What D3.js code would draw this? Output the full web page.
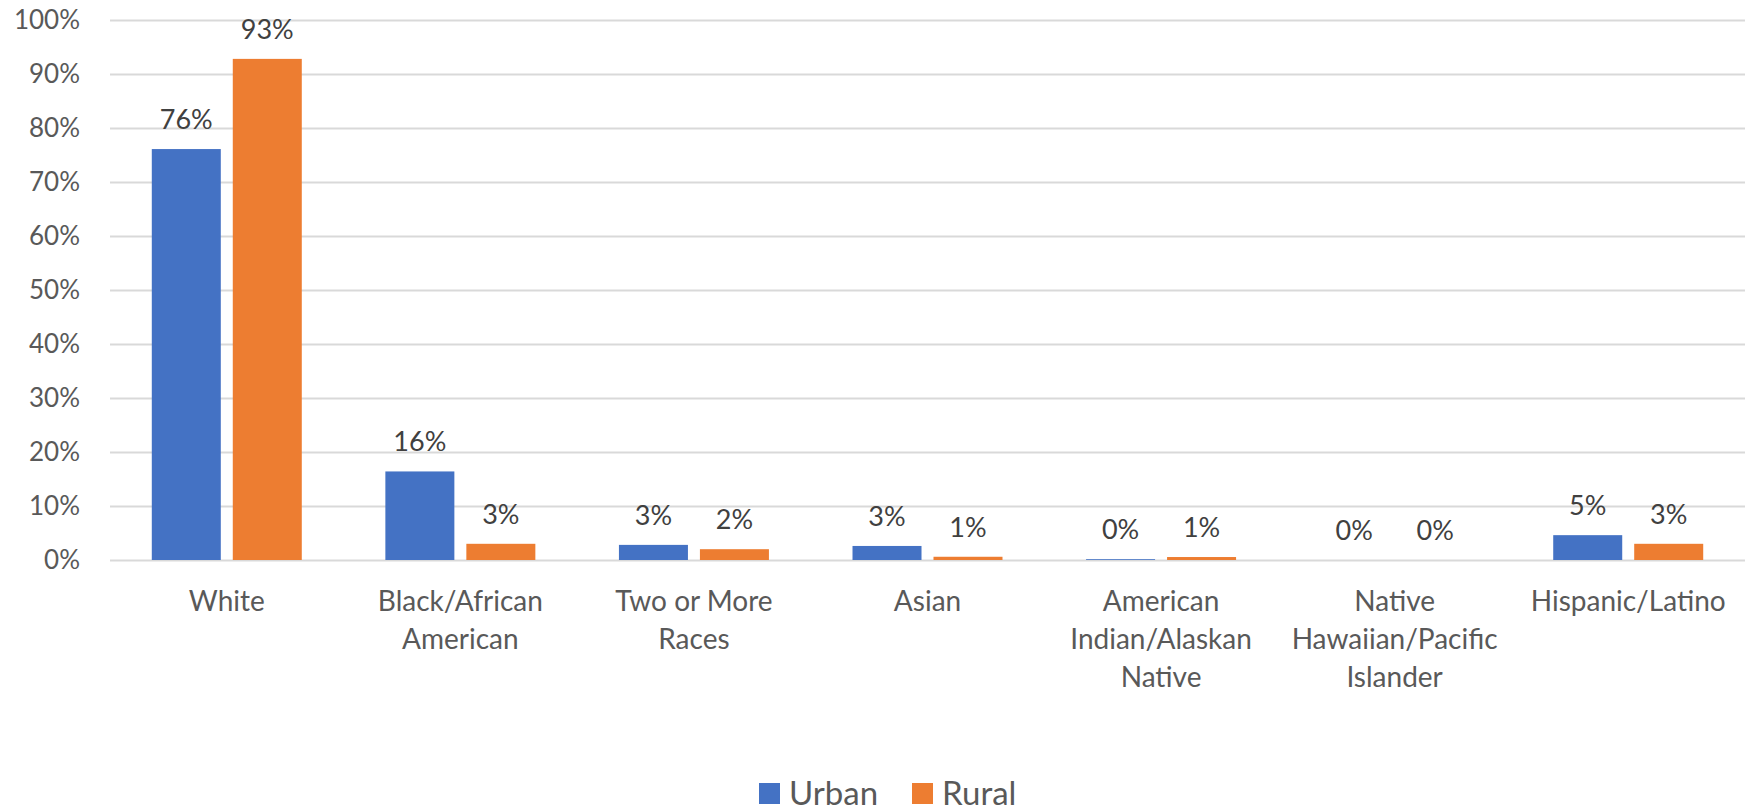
<!DOCTYPE html>
<html lang="en">
<head>
  <meta charset="UTF-8" />
  <title>Urban vs Rural by Race/Ethnicity</title>
  <script src="https://cdn.jsdelivr.net/npm/d3@7"></script>
  <style>
    body { margin: 0; background: #fff; }
    svg text { font-family: Lato, "Open Sans", sans-serif; }
  </style>
</head>
<body>
  <svg id="chart" width="1752" height="807"></svg>
  <script>
    // Chart data
    var categories = ["White", "Black/African American", "Two or More Races", "Asian",
                      "American Indian/Alaskan Native", "Native Hawaiian/Pacific Islander", "Hispanic/Latino"];
    var categoryLines = [["White"], ["Black/African", "American"], ["Two or More", "Races"], ["Asian"],
                         ["American", "Indian/Alaskan", "Native"], ["Native", "Hawaiian/Pacific", "Islander"],
                         ["Hispanic/Latino"]];
    var seriesNames = ["Urban", "Rural"];
    var urban = [76.1, 16.4, 2.8, 2.6, 0.15, 0.0, 4.6];
    var rural = [92.8, 3.0, 2.0, 0.6, 0.55, 0.0, 3.0];
    var urbanLabels = ["76%", "16%", "3%", "3%", "0%", "0%", "5%"];
    var ruralLabels = ["93%", "3%", "2%", "1%", "1%", "0%", "3%"];
    var yTicks = [0, 10, 20, 30, 40, 50, 60, 70, 80, 90, 100];
    var colors = ["#4472c4", "#ed7d31"];

    var svg = d3.select("#chart");
    var plotLeft = 110, plotRight = 1745, plotTop = 20, plotBottom = 560;

    var y = d3.scaleLinear().domain([0, 100]).range([plotBottom, plotTop]);
    var x0 = d3.scaleBand().domain(categories).range([plotLeft, plotRight]).padding(0);
    var x1 = d3.scaleBand().domain(seriesNames).range([0, x0.bandwidth()])
               .paddingInner(0.148).paddingOuter(0.516);
    var color = d3.scaleOrdinal().domain(seriesNames).range(colors);

    // gridlines
    var grid = d3.axisLeft(y).tickValues(yTicks).tickSize(-(plotRight - plotLeft)).tickFormat("");
    svg.append("g").attr("transform", "translate(" + plotLeft + ",0)").call(grid)
       .call(g => g.select(".domain").remove())
       .call(g => g.selectAll("line").attr("stroke", "#d9d9d9").attr("stroke-width", 2));

    // y tick labels
    var yAxis = d3.axisLeft(y).tickValues(yTicks).tickSize(0).tickPadding(30).tickFormat(d => d + "%");
    svg.append("g").attr("transform", "translate(" + plotLeft + ",0)").call(yAxis)
       .call(g => g.select(".domain").remove())
       .call(g => g.selectAll("text").attr("fill", "#595959").style("font-size", "26px")
                   .style("font-family", "Lato, 'Open Sans', sans-serif"));

    var rows = categories.map((c, i) => ({ cat: c, values: [
      { s: "Urban", v: urban[i], label: urbanLabels[i] },
      { s: "Rural", v: rural[i], label: ruralLabels[i] }
    ]}));

    var groups = svg.append("g").selectAll("g").data(rows).join("g")
      .attr("transform", d => "translate(" + x0(d.cat) + ",0)");

    groups.selectAll("rect").data(d => d.values).join("rect")
      .attr("x", d => x1(d.s))
      .attr("width", x1.bandwidth())
      .attr("y", d => y(d.v))
      .attr("height", d => y(0) - y(d.v))
      .attr("fill", d => color(d.s));

    groups.selectAll("text.val").data(d => d.values).join("text")
      .attr("class", "val")
      .attr("x", d => x1(d.s) + x1.bandwidth() / 2)
      .attr("y", d => y(d.v) - 20)
      .attr("text-anchor", "middle")
      .attr("fill", "#404040")
      .style("font-size", "27px")
      .text(d => d.label);

    // category labels
    var xAxis = svg.append("g");
    categories.forEach(function(c, i) {
      var cx = x0(c) + x0.bandwidth() / 2;
      var t = xAxis.append("text")
        .attr("x", cx)
        .attr("y", 611)
        .attr("text-anchor", "middle")
        .attr("fill", "#595959")
        .style("font-size", "28px");
      categoryLines[i].forEach(function(line, j) {
        t.append("tspan").attr("x", cx).attr("dy", j === 0 ? 0 : 38).text(line);
      });
    });

    // legend
    var legendX = [759, 912];
    var legend = svg.append("g").selectAll("g").data(seriesNames).join("g")
      .attr("transform", (d, i) => "translate(" + legendX[i] + ",783)");
    legend.append("rect").attr("width", 21).attr("height", 21).attr("fill", d => color(d));
    legend.append("text").attr("x", 30).attr("y", 22)
      .attr("fill", "#595959").style("font-size", "33px").text(d => d);
  </script>
</body>
</html>
